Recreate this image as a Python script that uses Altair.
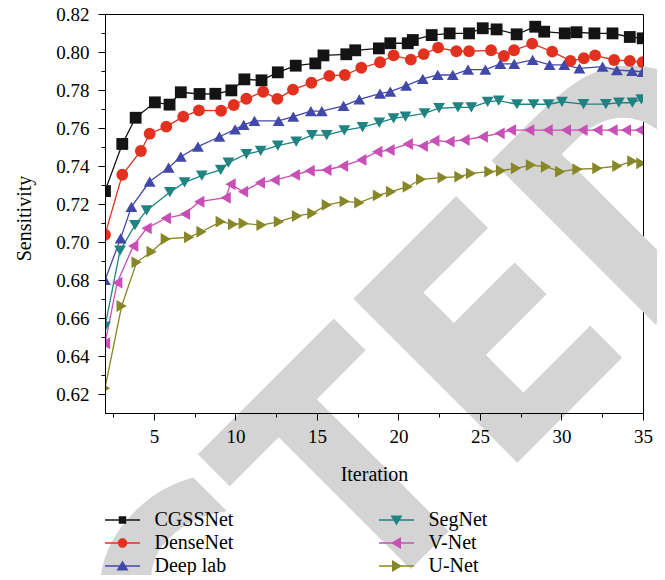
import altair as alt
import pandas as pd

# ---------------- data ----------------
models = ["CGSSNet", "DenseNet", "Deep lab", "SegNet", "V-Net", "U-Net"]

cgss_x = [2.0, 3.06, 3.88, 5.06, 5.96, 6.65, 7.8, 8.77, 9.75, 10.55, 11.6, 12.6, 13.7, 14.9, 15.4, 16.8, 17.35,
          18.8, 19.5, 20.57, 20.88, 22.04, 23.14, 24.33, 25.17, 26.02, 27.25, 28.39, 28.94, 30.2, 30.92, 32.02,
          33.13, 34.19, 34.98]
cgss_y = [0.7268, 0.7516, 0.7654, 0.7735, 0.7723, 0.7788, 0.7779, 0.778, 0.7798, 0.7856, 0.7851, 0.7893, 0.7928,
          0.794, 0.7982, 0.7988, 0.8009, 0.8019, 0.8046, 0.8046, 0.8063, 0.8089, 0.8098, 0.8098, 0.8125, 0.8119,
          0.8093, 0.8133, 0.8107, 0.8098, 0.8104, 0.8098, 0.8098, 0.8079, 0.8072]

dense_x = [2.0, 3.06, 4.2, 4.74, 5.76, 6.8, 7.76, 9.12, 9.9, 10.67, 11.7, 12.57, 13.53, 14.66, 15.76, 16.71, 17.72,
           18.87, 19.7, 20.76, 21.55, 22.43, 23.55, 24.33, 25.68, 26.47, 27.09, 28.2, 29.43, 30.55, 31.37, 32.06,
           33.23, 34.19, 34.98]
dense_y = [0.7038, 0.7354, 0.7479, 0.757, 0.7607, 0.766, 0.7693, 0.7691, 0.7721, 0.7754, 0.7791, 0.7753, 0.7802,
           0.7838, 0.7874, 0.7879, 0.7917, 0.7946, 0.7982, 0.796, 0.7989, 0.8023, 0.8004, 0.8004, 0.8009, 0.7979,
           0.8009, 0.8044, 0.8002, 0.7953, 0.7967, 0.7982, 0.7958, 0.7953, 0.7946]

deep_x = [2.0, 2.96, 3.62, 4.74, 5.9, 6.65, 7.7, 9.02, 9.98, 10.51, 11.17, 12.65, 13.55, 14.63, 15.3, 16.63, 17.6,
          18.87, 19.5, 20.47, 21.49, 22.41, 23.33, 24.27, 25.33, 26.25, 27.1, 28.23, 29.27, 30.17, 31.1, 32.52,
          33.4, 34.33, 34.98]
deep_y = [0.68, 0.7019, 0.7185, 0.7318, 0.7391, 0.7449, 0.7502, 0.7554, 0.7593, 0.7616, 0.7638, 0.7638, 0.766,
          0.7689, 0.7689, 0.7716, 0.7751, 0.7781, 0.7791, 0.7823, 0.7859, 0.7879, 0.7879, 0.7907, 0.7907, 0.7937,
          0.7937, 0.7958, 0.7932, 0.7932, 0.7914, 0.7923, 0.7905, 0.79, 0.7896]

seg_x = [2.0, 2.92, 3.84, 4.55, 5.98, 6.88, 7.94, 9.1, 9.57, 10.67, 11.55, 12.6, 13.73, 14.7, 15.6, 16.68, 17.8,
         18.82, 19.7, 20.43, 21.6, 22.49, 23.65, 24.47, 25.47, 26.15, 27.27, 28.29, 29.2, 30.03, 31.35, 32.72,
         33.52, 34.35, 34.9]
seg_y = [0.6554, 0.6954, 0.7089, 0.7166, 0.7262, 0.7314, 0.7349, 0.7379, 0.7418, 0.7463, 0.7479, 0.7507, 0.7528,
         0.7563, 0.7563, 0.7588, 0.7605, 0.7628, 0.7651, 0.766, 0.7677, 0.7704, 0.7709, 0.7709, 0.7738, 0.7744,
         0.7725, 0.7725, 0.7725, 0.7738, 0.7726, 0.7726, 0.7733, 0.7733, 0.7751]

vnet_x = [2.0, 2.75, 3.73, 4.55, 5.73, 6.9, 7.78, 9.4, 9.7, 10.47, 11.5, 12.4, 13.64, 14.55, 15.58, 16.6, 17.72,
          18.7, 19.45, 20.57, 21.49, 22.2, 23.13, 24.05, 25.17, 26.2, 26.9, 28.02, 29.15, 30.27, 31.29, 32.2,
          33.13, 33.95, 34.8]
vnet_y = [0.6467, 0.6786, 0.6979, 0.7072, 0.7125, 0.7147, 0.7212, 0.7233, 0.7304, 0.7265, 0.7312, 0.7326, 0.7353,
          0.7375, 0.7379, 0.74, 0.7432, 0.7475, 0.7484, 0.7516, 0.7505, 0.7533, 0.7528, 0.7537, 0.7554, 0.7572,
          0.7589, 0.7589, 0.7589, 0.7589, 0.7589, 0.7589, 0.7589, 0.7589, 0.7589]

unet_x = [2.0, 3.02, 3.94, 4.86, 5.73, 7.16, 7.92, 9.1, 9.86, 10.51, 11.6, 12.67, 13.78, 14.72, 15.61, 16.7, 17.6,
          18.74, 19.55, 20.57, 21.39, 22.71, 23.74, 24.45, 25.58, 26.29, 27.21, 28.13, 29.05, 29.92, 30.98, 32.2,
          33.43, 34.35, 34.9]
unet_y = [0.623, 0.6663, 0.6893, 0.6949, 0.7016, 0.7025, 0.7054, 0.7107, 0.7093, 0.7098, 0.7089, 0.7107, 0.7137,
          0.7151, 0.7195, 0.7214, 0.7207, 0.7245, 0.7265, 0.7291, 0.733, 0.7339, 0.7344, 0.7361, 0.737, 0.7375,
          0.7388, 0.7405, 0.7396, 0.737, 0.7383, 0.7388, 0.74, 0.7426, 0.7414]

x_major = [5, 10, 15, 20, 25, 30, 35]
x_minor = [2.5, 7.5, 12.5, 17.5, 22.5, 27.5, 32.5]
y_major = [0.62, 0.64, 0.66, 0.68, 0.70, 0.72, 0.74, 0.76, 0.78, 0.80, 0.82]
y_minor = [0.63, 0.65, 0.67, 0.69, 0.71, 0.73, 0.75, 0.77, 0.79, 0.81]

colors = ["#141414", "#e2321f", "#4248a8", "#1f8381", "#c84fb5", "#878727"]
plot_shapes = ["square", "circle", "triangle-up", "triangle-down", "triangle-left", "triangle-right"]
marker_sizes = [50, 60, 140, 140, 140, 140]
# legend symbols: a thin bar (the line) through the marker, all filled with the same winding
BAR = "M-3.5,-0.13H3.5V0.13H-3.5Z"
legend_paths = [
    BAR + "M-0.75,-0.75H0.75V0.75H-0.75Z",
    BAR + "M-0.95,0A0.95,0.95 0 1,1 0.95,0A0.95,0.95 0 1,1 -0.95,0Z",
    BAR + "M0,-1.1L1.2,0.9L-1.2,0.9Z",
    BAR + "M0,1.1L-1.2,-0.9L1.2,-0.9Z",
    BAR + "M-1.1,0L0.9,-1.2L0.9,1.2Z",
    BAR + "M1.1,0L-0.9,1.2L-0.9,-1.2Z",
]

series = {
    "CGSSNet": (cgss_x, cgss_y), "DenseNet": (dense_x, dense_y), "Deep lab": (deep_x, deep_y),
    "SegNet": (seg_x, seg_y), "V-Net": (vnet_x, vnet_y), "U-Net": (unet_x, unet_y),
}
rows = []
for m in models:
    xs, ys = series[m]
    for i, (xv, yv) in enumerate(zip(xs, ys)):
        rows.append({"model": m, "marker": m, "iter": xv, "sens": yv, "idx": i})
df = pd.DataFrame(rows)

shape_expr = "'circle'"
for m, p in reversed(list(zip(models, legend_paths))):
    shape_expr = f"datum.value === '{m}' ? '{p}' : ({shape_expr})"
color_expr = "scale('color', datum.value)"

SERIF = "Liberation Serif"
xscale = alt.Scale(domain=[2, 35], nice=False, zero=False)
yscale = alt.Scale(domain=[0.61, 0.82], nice=False, zero=False)
cscale = alt.Scale(domain=models, range=colors)
# marker scales listed in reverse order so their legends are not merged into the colour legend
rev_models = models[::-1]
shape_scale = alt.Scale(domain=rev_models, range=plot_shapes[::-1])
size_scale = alt.Scale(domain=rev_models, range=marker_sizes[::-1])

base = alt.Chart(df)

# watermark
wm = alt.Chart(pd.DataFrame({"t": ["RETRACTED"]})).mark_text(
    angle=315, font="DejaVu Sans Condensed", fontWeight="bold", fontSize=318,
    color="#d4d4d4", align="right", baseline="alphabetic"
).encode(text="t:N", x=alt.value(700), y=alt.value(161))

major_x_axis = alt.Axis(values=x_major, format="d", tickSize=7, grid=False, title="Iteration",
                        labelFont=SERIF, labelFontSize=19, labelPadding=7, labelColor="black",
                        titleFont=SERIF, titleFontSize=20, titleFontWeight="normal", titleColor="black",
                        titleBaseline="alphabetic", titleY=67, orient="bottom", zindex=1,
                        domainColor="black", tickColor="black", labelFlush=False)
major_y_axis = alt.Axis(values=y_major, format=".2f", tickSize=7, grid=False, title="Sensitivity",
                        labelFont=SERIF, labelFontSize=19, labelPadding=9, labelColor="black",
                        titleFont=SERIF, titleFontSize=20, titleFontWeight="normal", titleColor="black",
                        titleBaseline="alphabetic", titleAngle=270, titleX=-75, titleY=204,
                        orient="left", zindex=1, domainColor="black", tickColor="black")
minor_x_axis = alt.Axis(values=x_minor, tickSize=4, labels=False, domain=False, grid=False, title=None,
                        orient="bottom", zindex=1, tickColor="black")
minor_y_axis = alt.Axis(values=y_minor, tickSize=4, labels=False, domain=False, grid=False, title=None,
                        orient="left", zindex=1, tickColor="black")


def make_legend():
    return alt.Legend(
        title=None, orient="none", legendX=0, legendY=496, columns=2, columnPadding=145, rowPadding=3,
        labelFont=SERIF, labelFontSize=20, labelColor="black", labelOffset=22, symbolOffset=7.5,
        symbolSize=100, symbolStrokeWidth=0, padding=0, zindex=1, labelLimit=0, symbolOpacity=1,
        symbolType=alt.ExprRef(shape_expr),
        symbolFillColor=alt.ExprRef(color_expr),
        symbolStrokeColor=alt.ExprRef(color_expr),
    )


lines = base.mark_line(strokeWidth=1.3, clip=True).encode(
    x=alt.X("iter:Q", scale=xscale, axis=major_x_axis),
    y=alt.Y("sens:Q", scale=yscale, axis=major_y_axis),
    color=alt.Color("model:N", scale=cscale, legend=make_legend()),
    detail="model:N",
    order="idx:Q",
)

points = base.mark_point(filled=True, opacity=1, clip=True).encode(
    x=alt.X("iter:Q", scale=xscale, axis=minor_x_axis),
    y=alt.Y("sens:Q", scale=yscale, axis=minor_y_axis),
    color=alt.Color("model:N", scale=cscale, legend=make_legend()),
    shape=alt.Shape("marker:N", scale=shape_scale, legend=None),
    size=alt.Size("marker:N", scale=size_scale, legend=None),
)

chart = alt.layer(wm, lines, points).resolve_axis(
    x="independent", y="independent"
).properties(
    width=538, height=399,
    autosize=alt.AutoSizeParams(type="none"),
    padding={"left": 97, "top": 6, "right": 14, "bottom": 162},
    background="white",
).configure_view(
    stroke="black", strokeWidth=1
)

chart.save("out.html", embed_options={"renderer": "svg", "actions": False})
